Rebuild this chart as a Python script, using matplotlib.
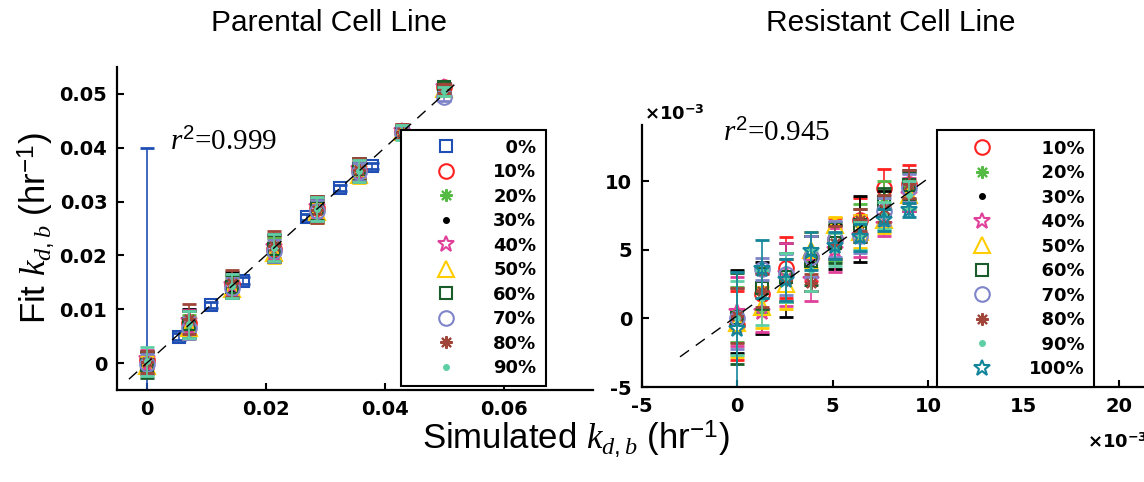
import matplotlib
matplotlib.use('Agg')
import matplotlib.pyplot as plt

plt.rcParams['font.family'] = 'DejaVu Sans'
plt.rcParams['mathtext.fontset'] = 'custom'
plt.rcParams['mathtext.rm'] = 'Liberation Sans'
plt.rcParams['mathtext.it'] = 'Liberation Serif:italic'
plt.rcParams['mathtext.bf'] = 'DejaVu Sans:bold'

# ---- parental cell line (hr^-1) ----
par_x0 = [0, 0.0054, 0.0108, 0.0162, 0.0270, 0.0324, 0.0378]
par_y0 = [0.0, 0.0049, 0.0108, 0.0153, 0.0271, 0.0325, 0.0366]
par_e0 = [0.040, 0.0006, 0.0006, 0.0006, 0.0006, 0.0006, 0.0006]

par_x = [0, 0.00714, 0.01429, 0.02143, 0.02857, 0.03571, 0.04286, 0.05]
par_y = {
    '10%': [0.0005, 0.0075, 0.0146, 0.0212, 0.0288, 0.0358, 0.0430, 0.0512],
    '20%': [0.0002, 0.0070, 0.0140, 0.0210, 0.0285, 0.0355, 0.0428, 0.0508],
    '30%': [0.0000, 0.0080, 0.0152, 0.0218, 0.0282, 0.0362, 0.0430, 0.0510],
    '40%': [0.0008, 0.0078, 0.0145, 0.0215, 0.0290, 0.0360, 0.0432, 0.0512],
    '50%': [-0.0005, 0.0065, 0.0138, 0.0205, 0.0280, 0.0350, 0.0430, 0.0510],
    '60%': [-0.0003, 0.0072, 0.0142, 0.0212, 0.0288, 0.0360, 0.0430, 0.0512],
    '70%': [-0.0002, 0.0065, 0.0140, 0.0208, 0.0283, 0.0355, 0.0428, 0.0495],
    '80%': [0.0002, 0.0082, 0.0148, 0.0218, 0.0285, 0.0358, 0.0430, 0.0510],
    '90%': [0.0003, 0.0072, 0.0143, 0.0214, 0.0286, 0.0357, 0.0429, 0.0505],
}
par_err = {
    '10%': [0.0015, 0.0022, 0.0020, 0.0022, 0.0020, 0.0018, 0.0012, 0.0008],
    '20%': [0.0018, 0.0020, 0.0020, 0.0022, 0.0022, 0.0017, 0.0012, 0.0008],
    '30%': [0.0020, 0.0020, 0.0018, 0.0022, 0.0020, 0.0018, 0.0012, 0.0008],
    '40%': [0.0017, 0.0020, 0.0020, 0.0022, 0.0020, 0.0017, 0.0012, 0.0008],
    '50%': [0.0018, 0.0020, 0.0018, 0.0020, 0.0020, 0.0016, 0.0012, 0.0008],
    '60%': [0.0025, 0.0025, 0.0022, 0.0025, 0.0022, 0.0020, 0.0012, 0.0008],
    '70%': [0.0018, 0.0020, 0.0018, 0.0020, 0.0020, 0.0017, 0.0012, 0.0008],
    '80%': [0.0020, 0.0028, 0.0025, 0.0028, 0.0025, 0.0022, 0.0014, 0.0008],
    '90%': [0.0027, 0.0025, 0.0022, 0.0025, 0.0022, 0.0020, 0.0014, 0.0008],
}
par_fit_x = [-0.003, 0.0525]
par_fit_y = [-0.003, 0.0525]

# ---- resistant cell line (x10^-3 hr^-1) ----
res_x = [0, 1.29, 2.57, 3.86, 5.14, 6.43, 7.71, 9.0]
res_y = {
    '10%': [-0.5, 1.8, 3.7, 4.5, 5.8, 7.2, 9.5, 9.8],
    '20%': [0.3, 2.0, 3.0, 4.5, 5.5, 7.0, 8.8, 9.6],
    '30%': [0.5, 1.5, 2.8, 4.0, 5.2, 6.5, 8.0, 9.3],
    '40%': [0.5, 0.5, 3.2, 2.8, 5.0, 6.0, 6.8, 9.0],
    '50%': [-0.3, 0.8, 2.5, 5.0, 6.8, 6.3, 7.2, 9.0],
    '60%': [0.0, 2.2, 3.0, 4.2, 5.5, 6.8, 8.5, 9.7],
    '70%': [0.0, 3.6, 3.2, 4.5, 5.8, 6.0, 7.8, 9.5],
    '80%': [0.2, 2.0, 2.8, 2.6, 5.5, 7.2, 8.0, 9.8],
    '90%': [0.0, 1.5, 3.0, 3.5, 5.0, 6.0, 7.5, 9.0],
    '100%': [-0.8, 3.6, 2.8, 4.9, 5.3, 5.9, 7.2, 7.9],
}
res_err = {
    '10%': [2.5, 1.5, 2.2, 1.8, 1.5, 1.6, 1.4, 1.4],
    '20%': [2.0, 1.5, 1.8, 1.5, 1.3, 1.3, 1.2, 1.0],
    '30%': [3.0, 2.6, 2.7, 2.0, 1.6, 2.4, 1.3, 1.5],
    '40%': [2.5, 1.5, 2.3, 1.5, 1.6, 1.5, 0.8, 1.2],
    '50%': [2.5, 1.5, 1.8, 1.3, 0.6, 1.2, 1.0, 1.0],
    '60%': [3.3, 1.5, 1.8, 1.8, 1.5, 1.2, 1.0, 1.0],
    '70%': [2.2, 0.8, 1.5, 1.5, 1.3, 1.2, 1.0, 1.0],
    '80%': [2.0, 1.2, 1.5, 0.6, 1.2, 0.8, 1.0, 1.0],
    '90%': [2.7, 2.0, 1.8, 1.5, 1.2, 1.0, 1.0, 1.0],
    '100%': [4.2, 2.1, 1.5, 1.4, 1.0, 1.0, 0.8, 0.5],
}
res_fit_x = [-3.0, 10.0]
res_fit_y = [-2.8, 10.2]

# marker style per series
styles = {
    '0%': dict(marker='s', color='#1f4fb4', ms=8.5),
    '10%': dict(marker='o', color='#ff2020', ms=10.5),
    '20%': dict(marker=(8, 2, 0), color='#55bb44', ms=9),
    '30%': dict(marker='.', color='black', ms=7),
    '40%': dict(marker='*', color='#e0409a', ms=12),
    '50%': dict(marker='^', color='#ffcc00', ms=12),
    '60%': dict(marker='s', color='#1a5c2a', ms=8.5),
    '70%': dict(marker='o', color='#7f84c8', ms=10.5),
    '80%': dict(marker=(8, 2, 0), color='#a0453a', ms=9),
    '90%': dict(marker='.', color='#5fcfa5', ms=7),
    '100%': dict(marker='*', color='#13859a', ms=12),
}


def draw_series(ax, x, y, err, name, label):
    st = styles[name]
    ax.errorbar(x, y, yerr=err, fmt='none', ecolor=st['color'], elinewidth=1.2,
                capsize=5, capthick=2)
    ax.plot(x, y, ls='none', marker=st['marker'], ms=st['ms'], mec=st['color'],
            mfc='none' if st['marker'] != '.' else st['color'], mew=1.5, label=label)


fig = plt.figure(figsize=(11.44, 4.82), dpi=100)
ax1 = fig.add_axes([0.1023, 0.191, 0.416, 0.670])
ax2 = fig.add_axes([0.561, 0.197, 0.439, 0.544])

draw_series(ax1, par_x0, par_y0, par_e0, '0%', '\u20070%')
for name in par_y:
    draw_series(ax1, par_x, par_y[name], par_err[name], name, name)
ax1.plot(par_fit_x, par_fit_y, color='black', ls=(0, (8, 6)), lw=1)

for name in res_y:
    lab = name if name == '100%' else '\u2007' + name
    draw_series(ax2, res_x, res_y[name], res_err[name], name, lab)
ax2.plot(res_fit_x, res_fit_y, color='black', ls=(0, (8, 6)), lw=1)

ax1.set_xlim(-0.005, 0.075)
ax1.set_ylim(-0.005, 0.055)
ax1.set_xticks([0, 0.02, 0.04, 0.06], ['0', '0.02', '0.04', '0.06'], fontweight='bold')
ax1.set_yticks([0, 0.01, 0.02, 0.03, 0.04, 0.05],
               ['0', '0.01', '0.02', '0.03', '0.04', '0.05'], fontweight='bold')

ax2.set_xlim(-5, 21.3)
ax2.set_ylim(-5, 14.1)
ax2.set_xticks([-5, 0, 5, 10, 15, 20], ['-5', '0', '5', '10', '15', '20'], fontweight='bold')
ax2.set_yticks([-5, 0, 5, 10], ['-5', '0', '5', '10'], fontweight='bold')

for ax in (ax1, ax2):
    for s in ('top', 'right'):
        ax.spines[s].set_visible(False)
    for s in ('left', 'bottom'):
        ax.spines[s].set_linewidth(1.6)
    ax.tick_params(direction='in', length=5, width=1.5, labelsize=14, pad=7)

leg_kw = dict(numpoints=1, frameon=True, fancybox=False, framealpha=1,
              edgecolor='black', handlelength=4.0, handletextpad=0.6,
              borderpad=0.5, labelspacing=0.36, borderaxespad=0,
              prop=dict(weight='bold', size=13))
lg1 = ax1.legend(loc='lower left', bbox_to_anchor=(0.597, 0.012), **leg_kw)
lg1.get_frame().set_linewidth(1.5)
lg2 = ax2.legend(loc='lower left', bbox_to_anchor=(0.588, 0.0), **leg_kw)
lg2.get_frame().set_linewidth(1.5)

ax1.text(0.111, 0.768, r'$r^{\mathit{2}}$=0.999', transform=ax1.transAxes,
         family='Liberation Serif', fontsize=21, va='center')
ax2.text(0.161, 0.969, r'$r^{\mathit{2}}$=0.945', transform=ax2.transAxes,
         family='Liberation Serif', fontsize=21, va='center')

fig.text(0.288, 0.952, 'Parental Cell Line', family='Liberation Sans',
         fontsize=21.5, ha='center', va='center')
fig.text(0.779, 0.952, 'Resistant Cell Line', family='Liberation Sans',
         fontsize=21.5, ha='center', va='center')
fig.text(0.031, 0.527, r'Fit $k_{d,b}$ (hr$^{-1}$)', family='Liberation Sans',
         fontsize=25, rotation=90, ha='center', va='center')
fig.text(0.503, 0.090, r'Simulated $k_{d,b}$ (hr$^{-1}$)', family='Liberation Sans',
         fontsize=25, ha='center', va='center')

fig.text(0.563, 0.762, r'×10$^{\mathbf{-3}}$', fontweight='bold', fontsize=13,
         ha='left', va='center')
fig.text(0.950, 0.082, r'×10$^{\mathbf{-3}}$', fontweight='bold', fontsize=13,
         ha='left', va='center')

fig.savefig('out.png', dpi=100)
